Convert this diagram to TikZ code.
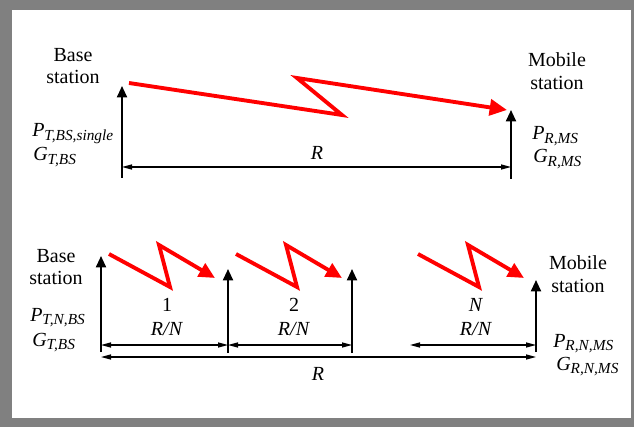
\documentclass[tikz,border=0pt]{standalone}
\usepackage{fontspec}
\setmainfont{Liberation Serif}
\usetikzlibrary{arrows.meta}
\definecolor{framegray}{RGB}{128,128,128}
\newcommand{\symsub}[2]{\textit{#1}\raisebox{-0.35ex}{\fontsize{11.5}{11.5}\selectfont\textit{#2}}}

\begin{document}
\begin{tikzpicture}[x=0.75pt, y=-0.75pt, font=\fontsize{15}{17}\selectfont,
  antenna/.style={line width=1.4pt, -{Triangle[length=8.5pt, width=7.5pt]}},
  dim/.style={line width=0.9pt, {Triangle[length=7.5pt, width=3.8pt]}-{Triangle[length=7.5pt, width=3.8pt]}},
  hop/.style={red, line width=2.9pt, -{Triangle[length=12pt, width=11pt]}},
  station/.style={align=center},
  sym/.style={inner sep=0pt}]
  % frame
  \fill[framegray] (0,0) rectangle (634,427);
  \fill[white] (12,10) rectangle (631,418);
  \useasboundingbox (0,0) rectangle (634,427);

  % single hop link
  \node[station] (bsA) at (73,66) {Base\\station};
  \node[station] (msA) at (557,71) {Mobile\\station};
  \coordinate (bsAbot) at (122,178);
  \coordinate (bsAtop) at (122,86);
  \coordinate (msAbot) at (511,179);
  \coordinate (msAtop) at (511,110);
  \draw[antenna] (bsAbot) -- (bsAtop);
  \draw[antenna] (msAbot) -- (msAtop);
  \draw[hop, -{Triangle[length=13pt, width=12pt]}] (129,83) -- (342,115) -- (297,78) -- (507,110);
  \coordinate (rAl) at (122,167);
  \coordinate (rAr) at (511,167);
  \draw[dim] (rAl) -- (rAr);
  \node[sym, anchor=base] (rA) at (317,160) {\textit{R}};
  \node[sym, anchor=base west] (ptA) at (32,137) {\symsub{P}{T,BS,single}};
  \node[sym, anchor=base west] (gtA) at (33,161) {\symsub{G}{T,BS}};
  \node[sym, anchor=base west] (prA) at (532,140) {\symsub{P}{R,MS}};
  \node[sym, anchor=base west] (grA) at (533,163) {\symsub{G}{R,MS}};

  % multi hop link
  \node[station] (bsB) at (56,267) {Base\\station};
  \node[station] (msB) at (578,274) {Mobile\\station};
  \coordinate (b0) at (101,352);  \coordinate (b0top) at (101,256);
  \coordinate (b1) at (228,353);  \coordinate (b1top) at (228,269);
  \coordinate (b2) at (352,353);  \coordinate (b2top) at (352,269);
  \coordinate (bN) at (536,352);  \coordinate (bNtop) at (536,280);
  \foreach \p in {b0, b1, b2, bN}
    \draw[antenna] (\p) -- (\p top);

  \foreach \xl/\num in {101/1, 228/2, 410/\textit{N}} {
    \draw[hop] (\xl+8,254) -- (\xl+69,287) -- (\xl+58,245) -- (\xl+114,278);
    \node[sym, anchor=base] (num\xl) at (\xl+66,311) {\num};
    \node[sym, anchor=base] (rn\xl) at (\xl+66,335) {\textit{R/N}};
  }

  \coordinate (d0) at (101,345);
  \coordinate (d1) at (228,345);
  \coordinate (d2) at (352,345);
  \coordinate (dNl) at (410,345);
  \coordinate (dN) at (536,345);
  \draw[dim] (d0) -- (d1);
  \draw[dim] (d1) -- (d2);
  \draw[dim] (dNl) -- (dN);
  \coordinate (rBl) at (101,357);
  \coordinate (rBr) at (536,357);
  \draw[dim] (rBl) -- (rBr);
  \node[sym, anchor=base] (rB) at (318,380) {\textit{R}};

  \node[sym, anchor=base west] (ptB) at (30,321) {\symsub{P}{T,N,BS}};
  \node[sym, anchor=base west] (gtB) at (32,346) {\symsub{G}{T,BS}};
  \node[sym, anchor=base west] (prB) at (553,347) {\symsub{P}{R,N,MS}};
  \node[sym, anchor=base west] (grB) at (556,370) {\symsub{G}{R,N,MS}};
\end{tikzpicture}
\end{document}
